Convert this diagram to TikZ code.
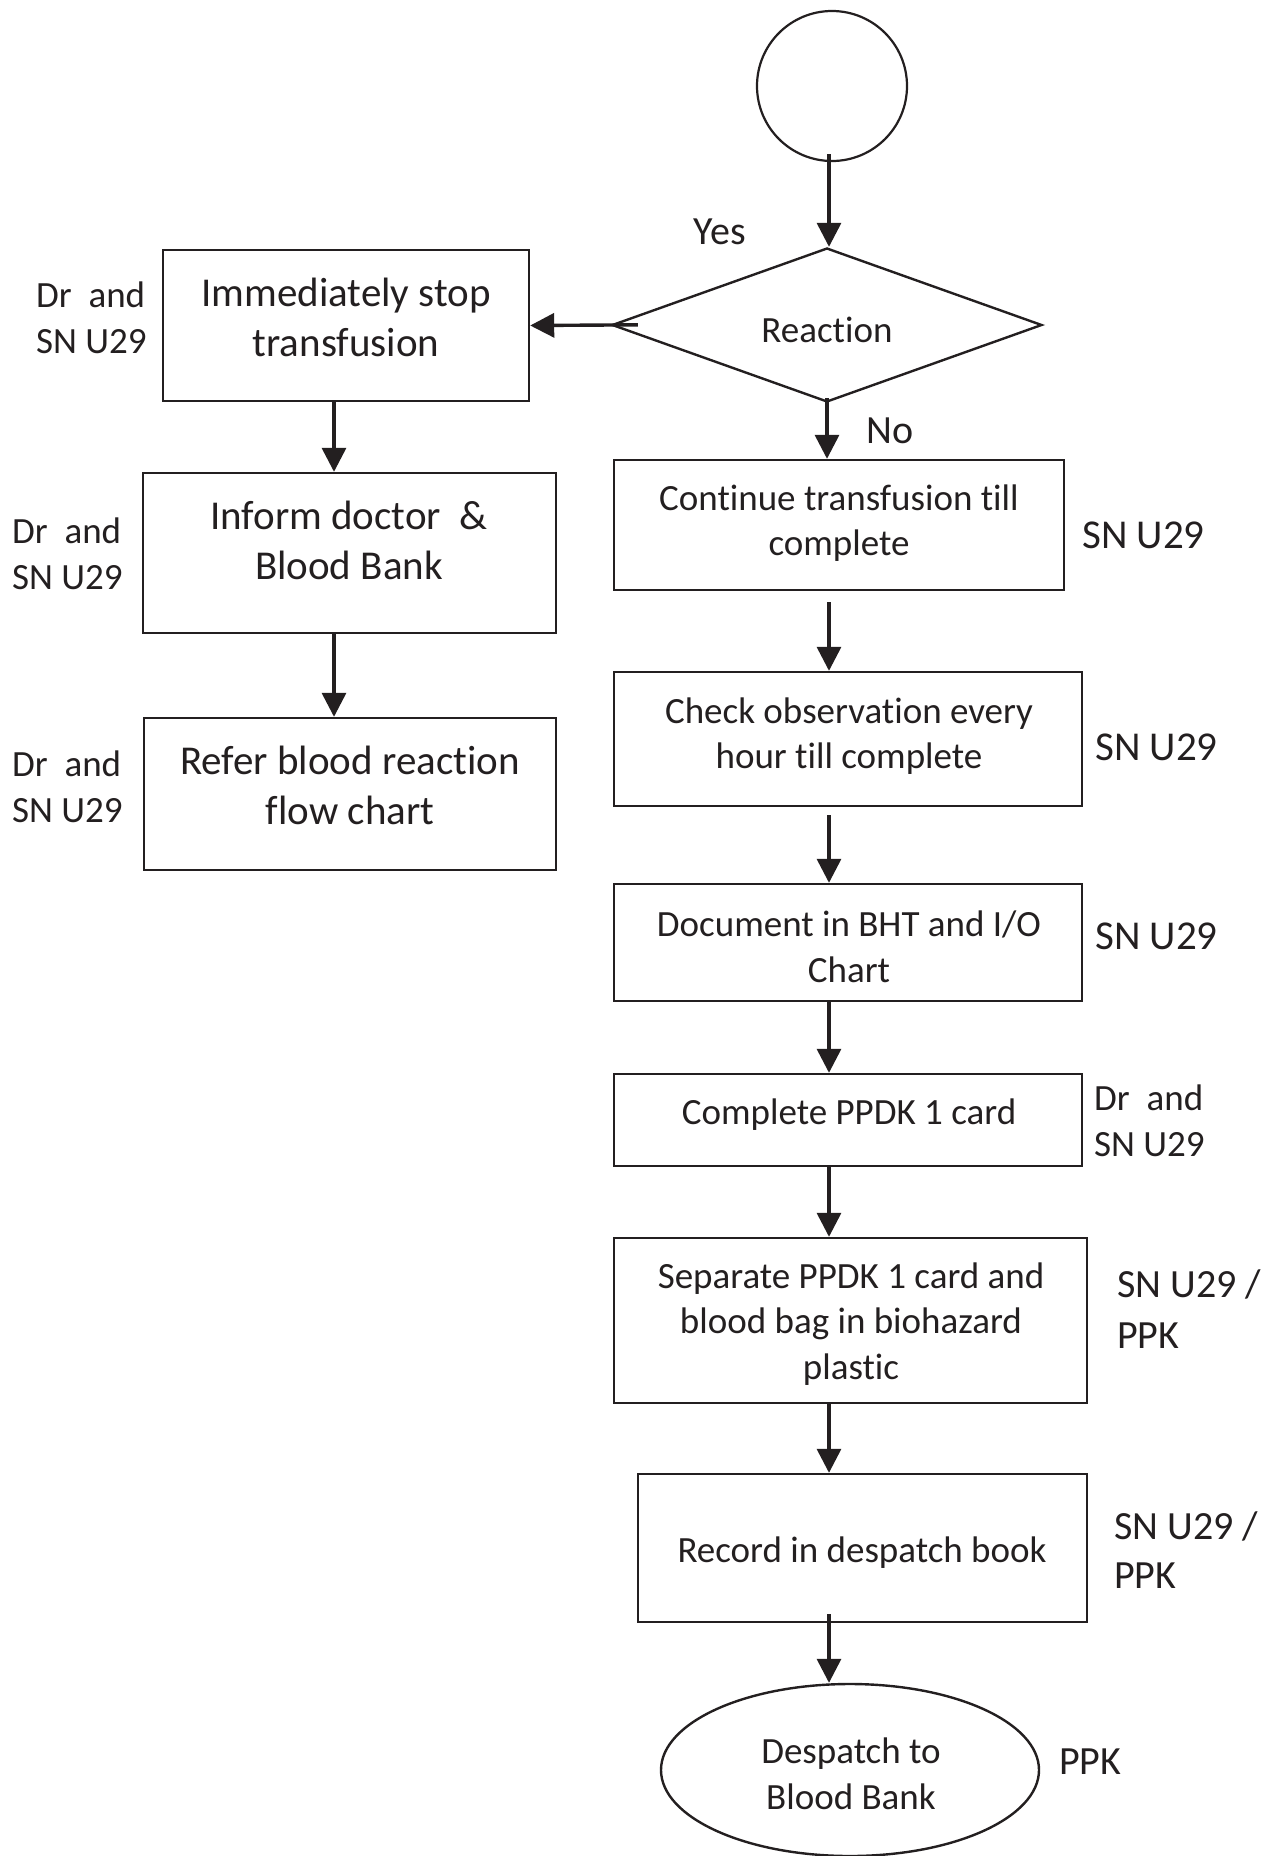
\documentclass[tikz,border=0pt]{standalone}
\usepackage{fontspec}
\setmainfont{Carlito}[Ligatures=NoCommon]
\usetikzlibrary{shapes.geometric,arrows.meta}
\definecolor{ink}{RGB}{35,31,32}
\begin{document}
\begin{tikzpicture}[x=1pt,y=-1pt,
  every node/.style={text=ink},
  stepbox/.style={draw=ink, line width=2.4pt, rectangle, inner sep=0pt},
  bigtxt/.style={font=\fontsize{41}{50}\selectfont, align=center, inner sep=0pt},
  boxtxt/.style={font=\fontsize{37}{45.5}\selectfont, align=center, inner sep=0pt},
  role/.style={font=\fontsize{37}{46}\selectfont, align=left, inner sep=0pt, anchor=west},
  rolebig/.style={font=\fontsize{41}{50}\selectfont, align=left, inner sep=0pt, anchor=west},
  flow/.style={draw=ink, line width=3.4pt, -{Triangle[length=24pt,width=24pt]}},
]
\useasboundingbox (0,0) rectangle (1282,1856);

% column guides for the connectors
\coordinate (lx) at (334,0);
\coordinate (rx) at (829,0);

% start and decision
\node[circle, draw=ink, line width=2.2pt, minimum size=150pt, inner sep=0pt] (start) at (832,86) {};
\node[diamond, draw=ink, line width=2.4pt, minimum width=430pt, minimum height=154pt,
      inner sep=0pt] (react) at (827,325) {};
\node[boxtxt] (reacttxt) at (827,330) {Reaction};
\node[font=\fontsize{40}{48}\selectfont, inner sep=0pt] (yes) at (720,232) {Yes};
\node[font=\fontsize{40}{48}\selectfont, inner sep=0pt] (no) at (890,431) {No};

% left branch (reaction)
\node[stepbox, minimum width=366pt, minimum height=151pt] (stop) at (346,325.5) {};
\node[bigtxt] (stoptxt) at (346,317) {Immediately stop\\transfusion};
\node[stepbox, minimum width=413pt, minimum height=160pt] (inform) at (349.5,553) {};
\node[bigtxt] (informtxt) at (349,540) {Inform doctor~~\&\\Blood Bank};
\node[stepbox, minimum width=412pt, minimum height=152pt] (refer) at (350,794) {};
\node[bigtxt] (refertxt) at (350,785) {Refer blood reaction\\flow chart};

\node[role] (lab1) at (36,318) {Dr~~and\\SN U29};
\node[role] (lab2) at (12,554) {Dr~~and\\SN U29};
\node[role] (lab3) at (12,787) {Dr~~and\\SN U29};

% right branch (no reaction)
\node[stepbox, minimum width=450pt, minimum height=130pt] (cont) at (839,525) {};
\node[boxtxt] (conttxt) at (839,523) {Continue transfusion till\\complete};
\node[stepbox, minimum width=468pt, minimum height=134pt] (check) at (848,739) {};
\node[boxtxt] (checktxt) at (849,736) {Check observation every\\hour till complete};
\node[stepbox, minimum width=468pt, minimum height=117pt] (doc) at (848,942.5) {};
\node[boxtxt] (doctxt) at (849,947) {Document in BHT and I/O\\Chart};
\node[stepbox, minimum width=468pt, minimum height=92pt] (card) at (848,1120) {};
\node[boxtxt] (cardtxt) at (849,1115) {Complete PPDK 1 card};
\node[stepbox, minimum width=473pt, minimum height=165pt] (sep) at (850.5,1320.5) {};
\node[boxtxt] (septxt) at (851,1324) {Separate PPDK 1 card and\\blood bag in biohazard\\plastic};
\node[stepbox, minimum width=449pt, minimum height=148pt] (rec) at (862.5,1548) {};
\node[boxtxt] (rectxt) at (862,1553) {Record in despatch book};
\node[ellipse, draw=ink, line width=2.4pt, minimum width=378pt, minimum height=172pt,
      inner sep=0pt] (desp) at (850,1770) {};
\node[boxtxt] (desptxt) at (851,1774) {Despatch to\\Blood Bank};

\node[rolebig] (lab4) at (1082,535) {SN U29};
\node[rolebig] (lab5) at (1095,747) {SN U29};
\node[rolebig] (lab6) at (1095,936) {SN U29};
\node[role] (lab7) at (1094,1121) {Dr~~and\\SN U29};
\node[font=\fontsize{40}{51}\selectfont, align=left, inner sep=0pt, anchor=west] (lab8) at (1117,1309) {SN U29 /\\PPK};
\node[font=\fontsize{40}{49}\selectfont, align=left, inner sep=0pt, anchor=west] (lab9) at (1114,1550) {SN U29 /\\PPK};
\node[font=\fontsize{40}{48}\selectfont, inner sep=0pt, anchor=west] (lab10) at (1059,1762) {PPK};

% connectors
\draw[flow, shorten <=-8pt] (start.south -| rx) -- (react.north -| rx);
\draw[flow, shorten <=-27pt] (react.west) -- (stop.east);
\draw[flow, shorten <=-5pt] (react.south) -- (react.south |- cont.north);
\draw[flow] (stop.south -| lx) -- (inform.north -| lx);
\draw[flow] (inform.south -| lx) -- (refer.north -| lx);
\draw[flow, shorten <=11pt] (cont.south -| rx) -- (check.north -| rx);
\draw[flow, shorten <=8pt] (check.south -| rx) -- (doc.north -| rx);
\draw[flow] (doc.south -| rx) -- (card.north -| rx);
\draw[flow] (card.south -| rx) -- (sep.north -| rx);
\draw[flow] (sep.south -| rx) -- (rec.north -| rx);
\draw[flow, shorten <=-9pt] (rec.south -| rx) -- (desp.north -| rx);
\end{tikzpicture}
\end{document}
